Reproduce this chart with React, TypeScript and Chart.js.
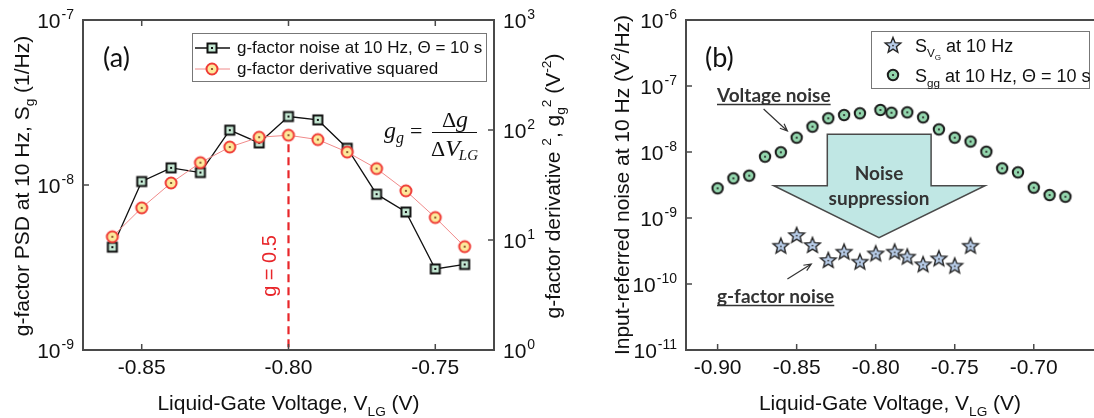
import React, { useEffect, useRef } from "react";
import { Chart, registerables } from "chart.js";
Chart.register(...registerables);

// ---------- data ----------
const voltageA = [-0.86, -0.85, -0.84, -0.83, -0.82, -0.81, -0.8, -0.79, -0.78, -0.77, -0.76, -0.75, -0.74];
const gNoisePSD = [4.2e-9, 1.05e-8, 1.27e-8, 1.19e-8, 2.15e-8, 1.8e-8, 2.6e-8, 2.48e-8, 1.67e-8, 8.8e-9, 6.86e-9, 3.1e-9, 3.3e-9];
const gDerivSq = [10.7, 19.6, 33, 50.5, 70, 86, 89.6, 81.8, 63, 44.6, 28, 16, 8.7];

const voltageSgg = [-0.9, -0.89, -0.88, -0.87, -0.86, -0.85, -0.84, -0.83, -0.82, -0.81, -0.797, -0.79, -0.78, -0.77, -0.76, -0.75, -0.74, -0.73, -0.72, -0.71, -0.7, -0.69, -0.68];
const sggValues = [2.82e-9, 3.99e-9, 4.38e-9, 8.5e-9, 9.9e-9, 1.65e-8, 2.42e-8, 3.24e-8, 3.63e-8, 3.86e-8, 4.33e-8, 3.94e-8, 3.99e-8, 3.35e-8, 2.2e-8, 1.65e-8, 1.44e-8, 1.01e-8, 5.66e-9, 4.92e-9, 2.88e-9, 2.23e-9, 2.1e-9];

const voltageSvg = [-0.86, -0.85, -0.84, -0.83, -0.82, -0.81, -0.8, -0.788, -0.78, -0.77, -0.76, -0.75, -0.74];
const svgValues = [3.8e-10, 5.52e-10, 3.9e-10, 2.31e-10, 3.09e-10, 2.18e-10, 2.91e-10, 3.09e-10, 2.6e-10, 1.99e-10, 2.45e-10, 1.9e-10, 3.8e-10];

const xTicksA = [-0.85, -0.8, -0.75];
const xTicksB = [-0.9, -0.85, -0.8, -0.75, -0.7];
const yExpLeftA = [-9, -8, -7];
const yExpRightA = [0, 1, 2, 3];
const yExpB = [-11, -10, -9, -8, -7, -6];
const gHalfVoltage = -0.8;
const gHalfDeriv = 89.6;

// ---------- styles ----------
const SANS = '"Liberation Sans", Arial, sans-serif';
const CAL = 'Lato, "Open Sans", sans-serif';
const SERIF = '"Liberation Serif", "DejaVu Serif", serif';
const AXIS = "#4a4a4a";
const RED = "#e8262a";

type Seg = { t: string; k?: "sub" | "sup" | "subsub" };

function segSize(s: Seg, size: number) {
  if (s.k === "subsub") return size * 0.45;
  return s.k ? size * 0.65 : size;
}
function segDy(s: Seg, size: number) {
  if (s.k === "sub") return size * 0.28;
  if (s.k === "subsub") return size * 0.45;
  if (s.k === "sup") return -size * 0.42;
  return 0;
}
function richWidth(ctx: CanvasRenderingContext2D, segs: Seg[], size: number, family: string, weight = "") {
  let w = 0;
  for (const s of segs) {
    ctx.font = `${weight} ${segSize(s, size)}px ${family}`;
    w += ctx.measureText(s.t).width;
  }
  return w;
}
function drawRich(
  ctx: CanvasRenderingContext2D,
  segs: Seg[],
  x: number,
  y: number,
  size: number,
  family: string,
  align: "left" | "center" | "right",
  color: string,
  weight = ""
) {
  const w = richWidth(ctx, segs, size, family, weight);
  let cx = align === "center" ? x - w / 2 : align === "right" ? x - w : x;
  ctx.fillStyle = color;
  ctx.textAlign = "left";
  ctx.textBaseline = "alphabetic";
  for (const s of segs) {
    ctx.font = `${weight} ${segSize(s, size)}px ${family}`;
    ctx.fillText(s.t, cx, y + segDy(s, size));
    cx += ctx.measureText(s.t).width;
  }
  return w;
}
function drawRichRotated(ctx: CanvasRenderingContext2D, segs: Seg[], cx: number, cy: number, size: number, color: string) {
  ctx.save();
  ctx.translate(cx, cy);
  ctx.rotate(-Math.PI / 2);
  drawRich(ctx, segs, 0, size * 0.36, size, SANS, "center", color);
  ctx.restore();
}
function drawPow(ctx: CanvasRenderingContext2D, exp: number, xRef: number, y: number, align: "left" | "right") {
  const base = "10";
  const sup = String(exp);
  ctx.font = `21px ${SANS}`;
  const wb = ctx.measureText(base).width;
  ctx.font = `14px ${SANS}`;
  const ws = ctx.measureText(sup).width;
  const total = wb + ws + 1;
  const x0 = align === "right" ? xRef - total : xRef;
  ctx.fillStyle = "#111";
  ctx.textAlign = "left";
  ctx.textBaseline = "alphabetic";
  ctx.font = `21px ${SANS}`;
  ctx.fillText(base, x0, y + 7.5);
  ctx.font = `14px ${SANS}`;
  ctx.fillText(sup, x0 + wb + 1, y - 1.5);
}
function pointer(ctx: CanvasRenderingContext2D, x1: number, y1: number, x2: number, y2: number) {
  ctx.save();
  ctx.strokeStyle = "#333";
  ctx.lineWidth = 1.2;
  ctx.beginPath();
  ctx.moveTo(x1, y1);
  ctx.lineTo(x2, y2);
  const a = Math.atan2(y2 - y1, x2 - x1);
  const L = 8;
  ctx.moveTo(x2 - L * Math.cos(a - 0.4), y2 - L * Math.sin(a - 0.4));
  ctx.lineTo(x2, y2);
  ctx.lineTo(x2 - L * Math.cos(a + 0.4), y2 - L * Math.sin(a + 0.4));
  ctx.stroke();
  ctx.restore();
}
function frame(chart: any, closed: boolean) {
  const ctx: CanvasRenderingContext2D = chart.ctx;
  const { left, right, top, bottom } = chart.chartArea;
  ctx.save();
  ctx.strokeStyle = AXIS;
  ctx.lineWidth = 2;
  ctx.beginPath();
  if (closed) {
    ctx.rect(left, top, right - left, bottom - top);
  } else {
    ctx.moveTo(right + 5, top);
    ctx.lineTo(left, top);
    ctx.lineTo(left, bottom);
    ctx.lineTo(right + 5, bottom);
  }
  ctx.stroke();
  ctx.restore();
}

function mk(size: number, draw: (c: CanvasRenderingContext2D) => void) {
  const cv = document.createElement("canvas");
  cv.width = size;
  cv.height = size;
  draw(cv.getContext("2d")!);
  return cv;
}

function makeMarkers() {
  const square = mk(14, (c) => {
    c.fillStyle = "#c4e8d3";
    c.fillRect(2.5, 2.5, 9, 9);
    c.strokeStyle = "#111";
    c.lineWidth = 2;
    c.strokeRect(2.5, 2.5, 9, 9);
    c.fillStyle = "#111";
    c.fillRect(6, 6, 2, 2);
  });
  const circA = mk(16, (c) => {
    c.beginPath();
    c.arc(8, 8, 5.5, 0, Math.PI * 2);
    c.fillStyle = "#fde99b";
    c.fill();
    c.strokeStyle = "#ef3b36";
    c.lineWidth = 2;
    c.stroke();
    c.beginPath();
    c.arc(8, 8, 1.1, 0, Math.PI * 2);
    c.fillStyle = "#7a3a1a";
    c.fill();
  });
  const circB = mk(16, (c) => {
    c.beginPath();
    c.arc(8, 8, 5.2, 0, Math.PI * 2);
    c.fillStyle = "#93d6ad";
    c.fill();
    c.strokeStyle = "#1b1b1b";
    c.lineWidth = 2;
    c.stroke();
    c.beginPath();
    c.arc(8, 8, 1.1, 0, Math.PI * 2);
    c.fillStyle = "#222";
    c.fill();
  });
  const star = mk(20, (c) => {
    c.beginPath();
    for (let i = 0; i < 10; i++) {
      const r = i % 2 === 0 ? 8.2 : 3.6;
      const a = -Math.PI / 2 + (i * Math.PI) / 5;
      const px = 10 + r * Math.cos(a);
      const py = 10.6 + r * Math.sin(a);
      if (i === 0) c.moveTo(px, py);
      else c.lineTo(px, py);
    }
    c.closePath();
    c.fillStyle = "#b8cde9";
    c.fill();
    c.strokeStyle = "#262626";
    c.lineWidth = 1.4;
    c.stroke();
    c.beginPath();
    c.arc(10, 10.6, 0.9, 0, Math.PI * 2);
    c.fillStyle = "#333";
    c.fill();
  });
  return { square, circA, circB, star };
}

export default function App() {
  const refA = useRef<HTMLCanvasElement>(null);
  const refB = useRef<HTMLCanvasElement>(null);

  useEffect(() => {
    const m = makeMarkers();

    const pluginA = {
      id: "decorA",
      beforeDatasetsDraw(chart: any) {
        const ctx: CanvasRenderingContext2D = chart.ctx;
        const x = chart.scales.x.getPixelForValue(gHalfVoltage);
        const yTop = chart.scales.yR.getPixelForValue(gHalfDeriv) + 9;
        ctx.save();
        ctx.strokeStyle = RED;
        ctx.lineWidth = 2.2;
        ctx.setLineDash([8, 5]);
        ctx.beginPath();
        ctx.moveTo(x, yTop);
        ctx.lineTo(x, chart.chartArea.bottom);
        ctx.stroke();
        ctx.restore();
      },
      afterDraw(chart: any) {
        const ctx: CanvasRenderingContext2D = chart.ctx;
        const { left, right, top, bottom } = chart.chartArea;
        const sx = chart.scales.x;
        const yl = chart.scales.yL;
        const yr = chart.scales.yR;
        frame(chart, true);
        ctx.save();
        ctx.strokeStyle = AXIS;
        ctx.lineWidth = 1.5;
        ctx.beginPath();
        for (const v of xTicksA) {
          const px = sx.getPixelForValue(v);
          ctx.moveTo(px, bottom);
          ctx.lineTo(px, bottom - 6);
          ctx.moveTo(px, top);
          ctx.lineTo(px, top + 6);
        }
        for (const e of yExpLeftA) {
          const py = yl.getPixelForValue(Math.pow(10, e));
          ctx.moveTo(left, py);
          ctx.lineTo(left + 6, py);
        }
        for (const e of yExpRightA) {
          const py = yr.getPixelForValue(Math.pow(10, e));
          ctx.moveTo(right, py);
          ctx.lineTo(right - 6, py);
        }
        ctx.stroke();
        ctx.restore();

        // tick labels
        ctx.font = `21px ${SANS}`;
        ctx.fillStyle = "#111";
        ctx.textAlign = "center";
        ctx.textBaseline = "middle";
        for (const v of xTicksA) ctx.fillText(v.toFixed(2), sx.getPixelForValue(v), 368);
        for (const e of yExpLeftA) drawPow(ctx, e, left - 9, yl.getPixelForValue(Math.pow(10, e)), "right");
        for (const e of yExpRightA) drawPow(ctx, e, right + 9, yr.getPixelForValue(Math.pow(10, e)), "left");

        // titles
        drawRich(ctx, [{ t: "Liquid-Gate Voltage, V" }, { t: "LG", k: "sub" }, { t: " (V)" }], (left + right) / 2, 410, 21, SANS, "center", "#111");
        drawRichRotated(ctx, [{ t: "g-factor PSD at 10 Hz, S" }, { t: "g", k: "sub" }, { t: " (1/Hz)" }], 21, 186, 21, "#111");
        drawRichRotated(
          ctx,
          [
            { t: "g-factor derivative " },
            { t: "2", k: "sup" },
            { t: ", g" },
            { t: "g", k: "sub" },
            { t: "2", k: "sup" },
            { t: " (V" },
            { t: "-2", k: "sup" },
            { t: ")" },
          ],
          552,
          186,
          21,
          "#111"
        );

        // panel label
        ctx.font = `27px ${CAL}`;
        ctx.fillStyle = "#111";
        ctx.textAlign = "left";
        ctx.textBaseline = "middle";
        ctx.fillText("(a)", 103, 58);

        // legend
        ctx.save();
        ctx.strokeStyle = "#777";
        ctx.lineWidth = 1;
        ctx.fillStyle = "#fff";
        ctx.fillRect(192.5, 33.5, 294, 48);
        ctx.strokeRect(192.5, 33.5, 294, 48);
        ctx.strokeStyle = "#111";
        ctx.lineWidth = 1.3;
        ctx.beginPath();
        ctx.moveTo(195, 48);
        ctx.lineTo(230, 48);
        ctx.stroke();
        ctx.strokeStyle = "#f08a8a";
        ctx.lineWidth = 1;
        ctx.beginPath();
        ctx.moveTo(195, 69);
        ctx.lineTo(230, 69);
        ctx.stroke();
        ctx.drawImage(m.square, 212 - 7, 48 - 7);
        ctx.drawImage(m.circA, 212 - 8, 69 - 8);
        ctx.font = `17px ${SANS}`;
        ctx.fillStyle = "#111";
        ctx.textAlign = "left";
        ctx.textBaseline = "middle";
        ctx.fillText("g-factor noise at 10 Hz, \u0398 = 10 s", 237, 48);
        ctx.fillText("g-factor derivative squared", 237, 69);
        ctx.restore();

        // g = 0.5
        ctx.save();
        ctx.translate(270, 266);
        ctx.rotate(-Math.PI / 2);
        ctx.font = `20px ${SANS}`;
        ctx.fillStyle = RED;
        ctx.textAlign = "center";
        ctx.textBaseline = "middle";
        ctx.fillText("g = 0.5", 0, 0);
        ctx.restore();

        // formula
        ctx.save();
        ctx.fillStyle = "#111";
        ctx.textBaseline = "alphabetic";
        ctx.textAlign = "left";
        ctx.font = `italic 24px ${SERIF}`;
        ctx.fillText("g", 384, 138);
        ctx.font = `italic 16px ${SERIF}`;
        ctx.fillText("g", 396, 143);
        ctx.font = `22px ${SERIF}`;
        ctx.fillText("=", 410, 138);
        ctx.strokeStyle = "#111";
        ctx.lineWidth = 1.2;
        ctx.beginPath();
        ctx.moveTo(432, 132.5);
        ctx.lineTo(477, 132.5);
        ctx.stroke();
        ctx.font = `22px ${SERIF}`;
        const wD = ctx.measureText("\u0394").width;
        ctx.font = `italic 24px ${SERIF}`;
        const wg = ctx.measureText("g").width;
        const nx = 455 - (wD + wg) / 2;
        ctx.font = `22px ${SERIF}`;
        ctx.fillText("\u0394", nx, 127);
        ctx.font = `italic 24px ${SERIF}`;
        ctx.fillText("g", nx + wD, 127);
        ctx.font = `italic 24px ${SERIF}`;
        const wV = ctx.measureText("V").width;
        ctx.font = `italic 15px ${SERIF}`;
        const wLG = ctx.measureText("LG").width;
        const dx = 455 - (wD + wV + wLG) / 2;
        ctx.font = `22px ${SERIF}`;
        ctx.fillText("\u0394", dx, 156);
        ctx.font = `italic 24px ${SERIF}`;
        ctx.fillText("V", dx + wD, 156);
        ctx.font = `italic 15px ${SERIF}`;
        ctx.fillText("LG", dx + wD + wV - 1, 160);
        ctx.restore();
      },
    };

    const chartA = new Chart(refA.current!, {
      type: "line",
      data: {
        datasets: [
          {
            label: "g-factor noise at 10 Hz, \u0398 = 10 s",
            data: voltageA.map((v, i) => ({ x: v, y: gNoisePSD[i] })),
            yAxisID: "yL",
            borderColor: "#111",
            borderWidth: 1.3,
            pointStyle: m.square as any,
            pointRadius: 5,
            tension: 0,
            order: 1,
          },
          {
            label: "g-factor derivative squared",
            data: voltageA.map((v, i) => ({ x: v, y: gDerivSq[i] })),
            yAxisID: "yR",
            borderColor: "#f08a8a",
            borderWidth: 1,
            pointStyle: m.circA as any,
            pointRadius: 5,
            tension: 0,
            order: 0,
          },
        ],
      },
      options: {
        responsive: false,
        animation: false,
        layout: { padding: { top: 20, left: 0, right: 0, bottom: 0 } },
        plugins: { legend: { display: false }, tooltip: { enabled: false } },
        scales: {
          x: {
            type: "linear",
            min: -0.87,
            max: -0.73,
            ticks: { display: false },
            grid: { display: false },
            border: { display: false },
            afterFit: (s: any) => {
              s.height = 68;
            },
          },
          yL: {
            type: "logarithmic",
            position: "left",
            min: 1e-9,
            max: 1e-7,
            ticks: { display: false },
            grid: { display: false },
            border: { display: false },
            afterFit: (s: any) => {
              s.width = 83;
            },
          },
          yR: {
            type: "logarithmic",
            position: "right",
            min: 1,
            max: 1000,
            ticks: { display: false },
            grid: { display: false },
            border: { display: false },
            afterFit: (s: any) => {
              s.width = 86;
            },
          },
        },
      } as any,
      plugins: [pluginA],
    });

    const OFF = 580;
    const pluginB = {
      id: "decorB",
      beforeDatasetsDraw(chart: any) {
        const ctx: CanvasRenderingContext2D = chart.ctx;
        ctx.save();
        ctx.beginPath();
        const pts = [
          [827.3, 134.3],
          [931.1, 134.3],
          [931.1, 185.7],
          [985, 185.7],
          [879, 237.7],
          [773.8, 185.7],
          [827.3, 185.7],
        ];
        pts.forEach(([px, py], i) => {
          if (i === 0) ctx.moveTo(px - OFF, py);
          else ctx.lineTo(px - OFF, py);
        });
        ctx.closePath();
        ctx.fillStyle = "#c0e7e4";
        ctx.fill();
        ctx.strokeStyle = "#4a4a4a";
        ctx.lineWidth = 1.5;
        ctx.stroke();
        ctx.font = `bold 19px ${CAL}`;
        ctx.fillStyle = "#333";
        ctx.textAlign = "center";
        ctx.textBaseline = "middle";
        ctx.fillText("Noise", 879 - OFF, 174);
        ctx.fillText("suppression", 879 - OFF, 199);
        ctx.restore();
      },
      afterDraw(chart: any) {
        const ctx: CanvasRenderingContext2D = chart.ctx;
        const { left, bottom } = chart.chartArea;
        const sx = chart.scales.x;
        const sy = chart.scales.y;
        frame(chart, false);
        ctx.save();
        ctx.strokeStyle = AXIS;
        ctx.lineWidth = 1.5;
        ctx.beginPath();
        for (const v of xTicksB) {
          const px = sx.getPixelForValue(v);
          ctx.moveTo(px, bottom);
          ctx.lineTo(px, bottom - 6);
        }
        for (const e of yExpB) {
          const py = sy.getPixelForValue(Math.pow(10, e));
          ctx.moveTo(left, py);
          ctx.lineTo(left + 6, py);
        }
        ctx.stroke();
        ctx.restore();

        ctx.font = `21px ${SANS}`;
        ctx.fillStyle = "#111";
        ctx.textAlign = "center";
        ctx.textBaseline = "middle";
        for (const v of xTicksB) ctx.fillText(v.toFixed(2), sx.getPixelForValue(v), 368);
        for (const e of yExpB) drawPow(ctx, e, left - 9, sy.getPixelForValue(Math.pow(10, e)), "right");

        drawRich(ctx, [{ t: "Liquid-Gate Voltage, V" }, { t: "LG", k: "sub" }, { t: " (V)" }], 890 - OFF, 410, 21, SANS, "center", "#111");
        drawRichRotated(ctx, [{ t: "Input-referred noise at 10 Hz (V" }, { t: "2", k: "sup" }, { t: "/Hz)" }], 621 - OFF, 185, 21, "#111");

        ctx.font = `27px ${CAL}`;
        ctx.fillStyle = "#111";
        ctx.textAlign = "left";
        ctx.textBaseline = "middle";
        ctx.fillText("(b)", 705 - OFF, 58);

        // annotations
        ctx.save();
        ctx.font = `bold 19px ${CAL}`;
        ctx.fillStyle = "#333";
        ctx.textAlign = "left";
        ctx.textBaseline = "middle";
        const w1 = ctx.measureText("Voltage noise").width;
        ctx.fillText("Voltage noise", 717 - OFF, 96);
        const w2 = ctx.measureText("g-factor noise").width;
        ctx.fillText("g-factor noise", 717 - OFF, 297);
        ctx.strokeStyle = "#333";
        ctx.lineWidth = 1.5;
        ctx.beginPath();
        ctx.moveTo(717 - OFF, 104.5);
        ctx.lineTo(717 - OFF + w1, 104.5);
        ctx.moveTo(717 - OFF, 305.5);
        ctx.lineTo(717 - OFF + w2, 305.5);
        ctx.stroke();
        ctx.restore();
        pointer(ctx, 763.6 - OFF, 109, 787.4 - OFF, 131);
        pointer(ctx, 787.4 - OFF, 279, 811.3 - OFF, 264);

        // legend
        ctx.save();
        ctx.strokeStyle = "#777";
        ctx.lineWidth = 1;
        ctx.fillStyle = "#fff";
        ctx.fillRect(871.5 - OFF, 31.5, 218, 57);
        ctx.strokeRect(871.5 - OFF, 31.5, 218, 57);
        ctx.drawImage(m.star, 893 - OFF - 10, 45 - 10);
        ctx.drawImage(m.circB, 893 - OFF - 8, 75 - 8);
        drawRich(ctx, [{ t: "S" }, { t: "V", k: "sub" }, { t: "G", k: "subsub" }, { t: " at 10 Hz" }], 915 - OFF, 51.5, 18, SANS, "left", "#111");
        drawRich(ctx, [{ t: "S" }, { t: "gg", k: "sub" }, { t: " at 10 Hz, \u0398 = 10 s" }], 915 - OFF, 81.5, 18, SANS, "left", "#111");
        ctx.restore();
      },
    };

    const chartB = new Chart(refB.current!, {
      type: "line",
      data: {
        datasets: [
          {
            label: "S_VG at 10 Hz",
            data: voltageSvg.map((v, i) => ({ x: v, y: svgValues[i] })),
            showLine: false,
            pointStyle: m.star as any,
            pointRadius: 5,
          },
          {
            label: "S_gg at 10 Hz, \u0398 = 10 s",
            data: voltageSgg.map((v, i) => ({ x: v, y: sggValues[i] })),
            showLine: false,
            pointStyle: m.circB as any,
            pointRadius: 5,
          },
        ],
      },
      options: {
        responsive: false,
        animation: false,
        layout: { padding: { top: 20, left: 0, right: 13, bottom: 0 } },
        plugins: { legend: { display: false }, tooltip: { enabled: false } },
        scales: {
          x: {
            type: "linear",
            min: -0.92,
            max: -0.66,
            ticks: { display: false },
            grid: { display: false },
            border: { display: false },
            afterFit: (s: any) => {
              s.height = 68;
            },
          },
          y: {
            type: "logarithmic",
            position: "left",
            min: 1e-11,
            max: 1e-6,
            ticks: { display: false },
            grid: { display: false },
            border: { display: false },
            afterFit: (s: any) => {
              s.width = 106;
            },
          },
        },
      } as any,
      plugins: [pluginB],
    });

    return () => {
      chartA.destroy();
      chartB.destroy();
    };
  }, []);

  return (
    <div style={{ position: "fixed", left: 0, top: 0, width: 1094, height: 418, overflow: "hidden", background: "#fff" }}>
      <canvas ref={refA} width={580} height={418} style={{ position: "absolute", left: 0, top: 0 }} />
      <canvas ref={refB} width={530} height={418} style={{ position: "absolute", left: 580, top: 0 }} />
    </div>
  );
}
